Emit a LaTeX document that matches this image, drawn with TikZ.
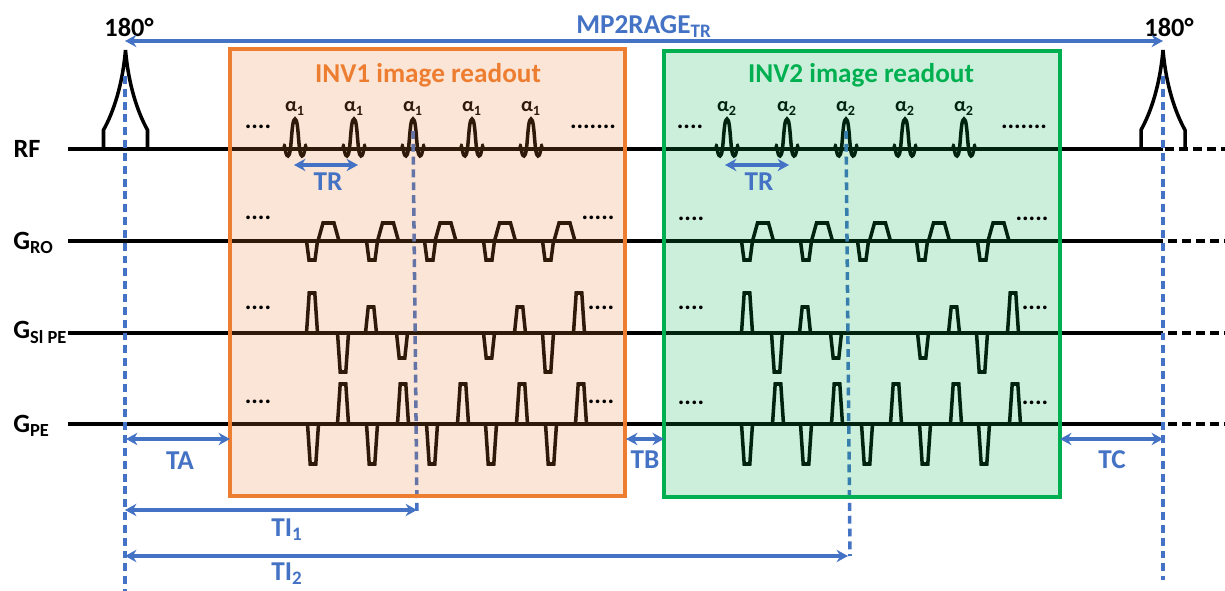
\documentclass[tikz,border=0pt]{standalone}
\usepackage{fontspec}
\setmainfont{Carlito}
\usetikzlibrary{arrows.meta}
\definecolor{seqblue}{HTML}{4472C4}
\definecolor{seqorange}{HTML}{ED7D31}
\definecolor{seqgreen}{HTML}{00B050}
\tikzset{
	seqline/.style={line width=2.1pt, color=black},
	tailline/.style={line width=2.1pt, color=black, dash pattern=on 5pt off 3pt},
	gradline/.style={line width=2pt, color=black, line join=miter},
	rfline/.style={line width=2pt, color=black},
	markline/.style={line width=2pt, color=seqblue, dash pattern=on 4.5pt off 2.8pt},
	spanline/.style={line width=2.1pt, color=seqblue, {Stealth[length=6.5pt,width=7pt]}-{Stealth[length=6.5pt,width=7pt]}},
	bluetext/.style={anchor=base, inner sep=0pt, text=seqblue, font=\fontsize{15.5}{18}\selectfont\bfseries},
	blacktext/.style={anchor=base, inner sep=0pt, text=black, font=\fontsize{15}{18}\selectfont\bfseries},
	dotstext/.style={anchor=base, inner sep=0pt, text=black, font=\fontsize{14}{16}\selectfont\bfseries},
	flipangle/.style={anchor=base, inner sep=0pt, text=black, font=\fontsize{11.5}{13}\selectfont\bfseries},
}
\def\gradpulse(#1,#2)(#3:#4:#5){\draw[gradline] ({#1-#3},#2) -- ({#1-#4},{#2-#5}) -- ({#1+#4},{#2-#5}) -- ({#1+#3},#2) -- cycle;}
\def\roup(#1){\gradpulse(#1,241)(10.5:5.5:18)}
\def\rodown(#1){\gradpulse(#1,241)(5.5:3:-19)}
\def\narrow(#1,#2)(#3){\gradpulse(#1,#2)(5.5:2.8:#3)}
\def\invpulse(#1){\draw[rfline] (#1-22,149) -- (#1-22,130) .. controls (#1-12,112) and (#1-3,85) .. (#1,50) .. controls (#1+3,85) and (#1+12,112) .. (#1+22,130) -- (#1+22,149);}
\def\sincpulse(#1)(#2){
	\draw[rfline] (#1-12,145) .. controls (#1-10,142) and (#1-10,156) .. (#1-7,156) .. controls (#1-3,156) and (#1-4,119) .. (#1,119) .. controls (#1+4,119) and (#1+3,156) .. (#1+7,156) .. controls (#1+10,156) and (#1+10,142) .. (#1+12,145);
	\node[flipangle] (alpha#1) at (#1,112) {α\textsubscript{#2}};
}

\begin{document}
\begin{tikzpicture}[x=0.02cm, y=-0.02cm]
	\useasboundingbox (0,0) rectangle (1225,591);
	
	% time axes
	\draw[seqline] (68,149) -- (1163,149);
	\draw[tailline] (1165,149) -- (1225,149);
	\draw[seqline] (68,241) -- (1163,241);
	\draw[tailline] (1168,241) -- (1225,241);
	\draw[seqline] (68,333) -- (1163,333);
	\draw[tailline] (1168,333) -- (1225,333);
	\draw[seqline] (68,424) -- (1163,424);
	\draw[tailline] (1168,424) -- (1225,424);
	
	% RF
	\invpulse(125.5)
	\invpulse(1163)
	\sincpulse(295)(1)
	\sincpulse(354)(1)
	\sincpulse(413)(1)
	\sincpulse(472)(1)
	\sincpulse(531)(1)
	\sincpulse(727)(2)
	\sincpulse(787)(2)
	\sincpulse(846)(2)
	\sincpulse(905)(2)
	\sincpulse(964)(2)
	
	% readout gradient
	\rodown(312) \roup(328.5)
	\rodown(372) \roup(388)
	\rodown(430) \roup(445.5)
	\rodown(489) \roup(505)
	\rodown(548) \roup(564.5)
	\rodown(747) \roup(763)
	\rodown(806) \roup(822)
	\rodown(863) \roup(880)
	\rodown(922) \roup(939)
	\rodown(983) \roup(998.5)
	
	% slice phase encoding
	\narrow(312,333)(40)
	\narrow(343,333)(-39)
	\narrow(371,333)(26)
	\narrow(402,333)(-25)
	\narrow(489,333)(-25)
	\narrow(520,333)(26)
	\narrow(548,333)(-39)
	\narrow(579,333)(40)
	\narrow(747,333)(40)
	\narrow(777,333)(-39)
	\narrow(805,333)(26)
	\narrow(836,333)(-25)
	\narrow(923,333)(-25)
	\narrow(954,333)(26)
	\narrow(982,333)(-39)
	\narrow(1013,333)(40)
	
	% phase encoding
	\narrow(313,424)(-40)
	\narrow(343,424)(40)
	\narrow(372,424)(-40)
	\narrow(403,424)(40)
	\narrow(432,424)(-40)
	\narrow(463,424)(40)
	\narrow(491,424)(-40)
	\narrow(522,424)(40)
	\narrow(551,424)(-40)
	\narrow(581,424)(40)
	\narrow(747,424)(-40)
	\narrow(778,424)(40)
	\narrow(806,424)(-40)
	\narrow(837,424)(40)
	\narrow(867,424)(-40)
	\narrow(896,424)(40)
	\narrow(925,424)(-40)
	\narrow(956,424)(40)
	\narrow(984,424)(-40)
	\narrow(1015,424)(40)
	
	% dashed time marks
	\draw[markline] (125,76) -- (125,591);
	\draw[markline] (1163,76) -- (1163,580);
	\draw[markline] (413,131) -- (417,512);
	\draw[markline] (846,131) -- (850,556);
	
	% readout windows
	\draw[line width=2.1pt, draw=seqorange, fill=seqorange, fill opacity=0.2] (230,49) rectangle (625,496);
	\draw[line width=2.1pt, draw=seqgreen, fill=seqgreen, fill opacity=0.2] (664,51) rectangle (1060,497);
	\node[bluetext, text=seqorange] (inv1label) at (428,82.5) {INV1 image readout};
	\node[bluetext, text=seqgreen] (inv2label) at (861,82.5) {INV2 image readout};
	
	% axis labels
	\node[blacktext] (rflabel) at (27,158) {RF};
	\node[blacktext, anchor=base west] (rolabel) at (13,250) {G\textsubscript{RO}};
	\node[blacktext, anchor=base west] (sllabel) at (13,339) {G\textsubscript{Sl PE}};
	\node[blacktext, anchor=base west] (pelabel) at (13,433) {G\textsubscript{PE}};
	\node[blacktext] (inv180a) at (129,37) {180°};
	\node[blacktext] (inv180b) at (1169,37) {180°};
	
	% dots
	\node[dotstext] (dotsa1) at (258,129) {....};
	\node[dotstext] (dotsa2) at (593,129) {.......};
	\node[dotstext] (dotsb1) at (690,129) {....};
	\node[dotstext] (dotsb2) at (1024,129) {.......};
	\node[dotstext] (dotsc1) at (258,220) {....};
	\node[dotstext] (dotsc2) at (598,220) {.....};
	\node[dotstext] (dotsd1) at (691,221) {....};
	\node[dotstext] (dotsd2) at (1032,221) {.....};
	\node[dotstext] (dotse1) at (258,310) {....};
	\node[dotstext] (dotse2) at (601,310) {....};
	\node[dotstext] (dotsf1) at (691,310) {....};
	\node[dotstext] (dotsf2) at (1035,310) {....};
	\node[dotstext] (dotsg1) at (258,404) {....};
	\node[dotstext] (dotsg2) at (601,404) {....};
	\node[dotstext] (dotsh1) at (691,405) {....};
	\node[dotstext] (dotsh2) at (1035,405) {....};
	
	% spans
	\coordinate (tra1) at (294,165);
	\coordinate (tra2) at (358,165);
	\coordinate (trb1) at (725,165);
	\coordinate (trb2) at (789,165);
	\coordinate (tota) at (125,41);
	\coordinate (totb) at (1163,41);
	\coordinate (taa) at (126,439);
	\coordinate (tab) at (230,439);
	\coordinate (tba) at (626,439);
	\coordinate (tbb) at (664,439);
	\coordinate (tca) at (1060,439);
	\coordinate (tcb) at (1163,439);
	\coordinate (tia) at (125,510);
	\coordinate (tib) at (417,510);
	\coordinate (tic) at (125,556);
	\coordinate (tid) at (848,556);
	\draw[spanline] (tra1) -- (tra2);
	\draw[spanline] (trb1) -- (trb2);
	\draw[spanline] (tota) -- (totb);
	\draw[spanline] (taa) -- (tab);
	\draw[spanline] (tba) -- (tbb);
	\draw[spanline] (tca) -- (tcb);
	\draw[spanline] (tia) -- (tib);
	\draw[spanline] (tic) -- (tid);
	
	\node[bluetext] (totlabel) at (644,34) {MP2RAGE\textsubscript{TR}};
	\node[bluetext] (trlabela) at (328,191) {TR};
	\node[bluetext] (trlabelb) at (759,191) {TR};
	\node[bluetext] (talabel) at (180,470) {TA};
	\node[bluetext] (tblabel) at (645,469) {TB};
	\node[bluetext] (tclabel) at (1112,469) {TC};
	\node[bluetext] (ti1label) at (287,537) {TI\textsubscript{1}};
	\node[bluetext] (ti2label) at (287,581) {TI\textsubscript{2}};
\end{tikzpicture}
\end{document}
